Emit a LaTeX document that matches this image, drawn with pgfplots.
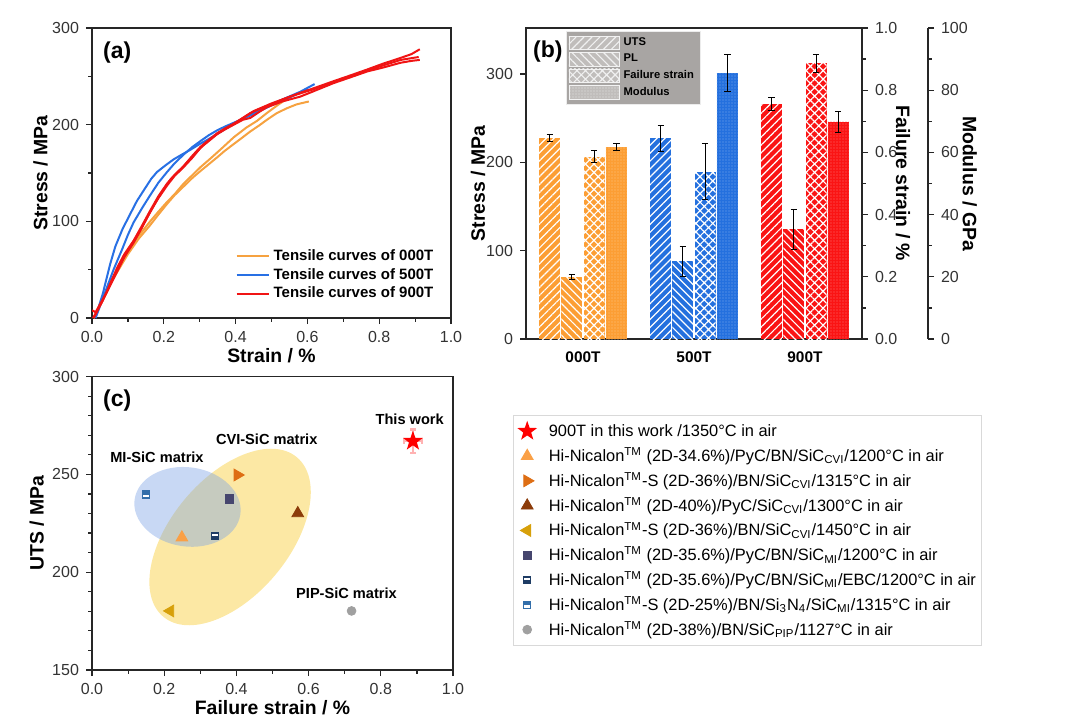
\documentclass[border=0pt]{standalone}
\usepackage{fontspec}
\setmainfont{Liberation Sans}
\usepackage{pgfplots}
\pgfplotsset{compat=1.18}
\usetikzlibrary{patterns.meta}

\definecolor{aOr}{RGB}{246,162,64}
\definecolor{aBl}{RGB}{40,112,228}
\definecolor{aRd}{RGB}{240,20,20}
\definecolor{cOr}{RGB}{252,158,52}
\definecolor{cBl}{RGB}{36,112,222}
\definecolor{cRd}{RGB}{250,20,20}
\definecolor{lgbg}{RGB}{168,165,163}
\definecolor{lgpat}{RGB}{192,189,187}
\definecolor{mOr}{RGB}{250,160,70}
\definecolor{mRt}{RGB}{222,110,20}
\definecolor{mBr}{RGB}{140,60,10}
\definecolor{mLt}{RGB}{215,160,10}
\definecolor{mSq}{RGB}{70,70,110}
\definecolor{mEBC}{RGB}{30,60,100}
\definecolor{mSN}{RGB}{50,110,170}
\definecolor{mCi}{RGB}{160,160,160}
\definecolor{elY}{RGB}{249,214,90}
\definecolor{elB}{RGB}{125,162,228}

\pgfdeclareplotmark{fstar}{%
  \pgfpathmoveto{\pgfpointpolar{90}{\pgfplotmarksize}}%
  \pgfpathlineto{\pgfpointpolar{126}{0.4*\pgfplotmarksize}}%
  \pgfpathlineto{\pgfpointpolar{162}{\pgfplotmarksize}}%
  \pgfpathlineto{\pgfpointpolar{198}{0.4*\pgfplotmarksize}}%
  \pgfpathlineto{\pgfpointpolar{234}{\pgfplotmarksize}}%
  \pgfpathlineto{\pgfpointpolar{270}{0.4*\pgfplotmarksize}}%
  \pgfpathlineto{\pgfpointpolar{306}{\pgfplotmarksize}}%
  \pgfpathlineto{\pgfpointpolar{342}{0.4*\pgfplotmarksize}}%
  \pgfpathlineto{\pgfpointpolar{18}{\pgfplotmarksize}}%
  \pgfpathlineto{\pgfpointpolar{54}{0.4*\pgfplotmarksize}}%
  \pgfpathclose
  \pgfusepathqfill}
\pgfdeclareplotmark{sqEBC}{%
  \pgfpathrectangle{\pgfpoint{-\pgfplotmarksize}{-\pgfplotmarksize}}{\pgfpoint{2\pgfplotmarksize}{2\pgfplotmarksize}}%
  \pgfusepathqfill
  \begin{pgfscope}\pgfsetfillcolor{white}%
  \pgfpathrectangle{\pgfpoint{-0.7\pgfplotmarksize}{0.05\pgfplotmarksize}}{\pgfpoint{1.4\pgfplotmarksize}{0.55\pgfplotmarksize}}%
  \pgfusepathqfill\end{pgfscope}}
\pgfdeclareplotmark{sqSN}{%
  \pgfpathrectangle{\pgfpoint{-\pgfplotmarksize}{-\pgfplotmarksize}}{\pgfpoint{2\pgfplotmarksize}{2\pgfplotmarksize}}%
  \pgfusepathqfill
  \begin{pgfscope}\pgfsetfillcolor{white}%
  \pgfpathrectangle{\pgfpoint{-0.7\pgfplotmarksize}{-0.7\pgfplotmarksize}}{\pgfpoint{1.4\pgfplotmarksize}{0.65\pgfplotmarksize}}%
  \pgfusepathqfill\end{pgfscope}}

\tikzset{
 pUTS/.style={postaction={pattern={Lines[angle=45,distance=2.8pt,line width=0.6pt]}, pattern color=#1}},
 pPL/.style={postaction={pattern={Lines[angle=-45,distance=2.8pt,line width=0.6pt]}, pattern color=#1}},
 pFS/.style={postaction={pattern={Hatch[angle=45,distance=3pt,line width=0.6pt]}, pattern color=#1}},
 pMod/.style={postaction={pattern={Dots[distance=1.5pt,radius=0.35pt]}, pattern color=#1}},
}
\pgfplotsset{
 mybar/.style={ybar, bar width=0.19, bar shift=0pt, draw=none,
   error bars/y dir=both, error bars/y explicit,
   error bars/error bar style={black, line width=0.5pt},
   error bars/error mark options={rotate=90, black, mark size=1.6pt, line width=0.5pt}},
 common/.style={scale only axis, anchor=south west,
   tick label style={font=\fontsize{8}{9.6}\selectfont, color=black!80},
   label style={font=\bfseries\fontsize{9.7}{11.5}\selectfont},
   /pgf/number format/assume math mode=true,
   tick align=outside, axis line style={black!85, line width=0.6pt},
   every tick/.style={black!85, line width=0.6pt},
   major tick length=3pt, minor tick length=1.8pt},
 zf/.style={/pgf/number format/.cd, fixed, fixed zerofill, precision=1},
}

\begin{document}
\begin{tikzpicture}
\useasboundingbox (0,0) rectangle (540pt,362pt);

% ---------------- (a)
\begin{axis}[common, at={(46pt,203pt)}, width=179.5pt, height=145pt,
  xmin=0, xmax=1, ymin=0, ymax=300,
  xtick={0,0.2,0.4,0.6,0.8,1.0}, ytick={0,100,200,300},
  xticklabel style={zf},
  minor x tick num=1, minor y tick num=1, tick pos=left,
  xlabel={Strain / \%}, ylabel={Stress / MPa},
  xlabel style={at={(rel axis cs:0.5,-0.131)}, anchor=center},
  ylabel style={at={(rel axis cs:-0.143,0.5)}, anchor=center},
  legend style={at={(0.98,0.03)}, anchor=south east, draw=none, fill=none,
    font=\bfseries\fontsize{7.5}{9}\selectfont, row sep=-1.5pt},
  legend cell align=left,
  legend image code/.code={\draw[#1] (0pt,0pt) -- (16pt,0pt);}]
\addplot[aOr, line width=1pt] coordinates {(0.005,0) (0.05,35) (0.1,66) (0.13,82) (0.162,96) (0.185,107) (0.209,118) (0.23,127) (0.255,136) (0.28,145) (0.302,152) (0.325,159) (0.348,166) (0.37,173) (0.395,180) (0.42,187) (0.441,193) (0.465,199) (0.487,205) (0.515,212) (0.543,217) (0.57,221) (0.604,224)};
\addlegendentry{Tensile curves of 000T}
\addplot[aOr, line width=1pt, forget plot] coordinates {(0.005,0) (0.05,36) (0.1,68) (0.13,85) (0.162,100) (0.185,110) (0.209,120) (0.23,128) (0.255,139) (0.28,148) (0.302,156) (0.33,165) (0.36,175) (0.395,187) (0.43,197) (0.46,204) (0.487,212) (0.52,221) (0.552,229)};
\addplot[aBl, line width=1pt] coordinates {(0.009,0) (0.03,25) (0.05,55) (0.065,74) (0.085,92) (0.107,108) (0.125,121) (0.144,132) (0.165,144) (0.181,151) (0.205,158) (0.227,164) (0.25,169) (0.274,174) (0.3,180) (0.32,184) (0.36,193) (0.395,201) (0.44,210) (0.487,219) (0.53,226) (0.58,234) (0.62,242)};
\addlegendentry{Tensile curves of 500T}
\addplot[aBl, line width=1pt, forget plot] coordinates {(0.01,0) (0.04,30) (0.06,50) (0.085,72) (0.1,86) (0.116,99) (0.14,114) (0.162,127) (0.185,140) (0.209,151) (0.23,160) (0.255,169) (0.28,177) (0.302,183) (0.325,189) (0.348,194) (0.37,198) (0.395,202) (0.45,211) (0.5,220) (0.55,228) (0.6,237)};
\addplot[aRd, line width=1pt] coordinates {(0.003,0) (0.03,18) (0.05,35) (0.07,52) (0.09,66) (0.116,80) (0.14,96) (0.162,111) (0.185,126) (0.209,139) (0.23,148) (0.255,157) (0.28,168) (0.302,177) (0.325,184) (0.348,191) (0.37,196) (0.395,201) (0.42,207) (0.441,212) (0.465,216) (0.487,219) (0.53,226) (0.58,233) (0.62,238) (0.673,245) (0.72,251) (0.766,257) (0.81,263) (0.859,269) (0.89,273) (0.913,278)};
\addlegendentry{Tensile curves of 900T}
\addplot[aRd, line width=1pt, forget plot] coordinates {(0.005,0) (0.05,33) (0.09,63) (0.116,78) (0.14,94) (0.162,110) (0.185,124) (0.209,137) (0.23,147) (0.255,156) (0.28,166) (0.302,176) (0.325,183) (0.348,190) (0.37,195) (0.395,200) (0.42,205) (0.441,207) (0.465,213) (0.487,218) (0.53,224) (0.58,229) (0.62,235) (0.673,243) (0.72,249) (0.766,255) (0.81,259) (0.859,264) (0.89,266) (0.913,267)};
\addplot[aRd, line width=1pt, forget plot] coordinates {(0,8) (0.01,6) (0.04,26) (0.07,50) (0.1,70) (0.13,88) (0.16,108) (0.19,128) (0.22,144) (0.25,155) (0.28,167) (0.31,179) (0.35,191) (0.4,202) (0.45,214) (0.5,222) (0.56,230) (0.62,237) (0.68,245) (0.74,252) (0.8,260) (0.86,267) (0.91,270)};
\node[anchor=west, inner sep=0pt, font=\bfseries\fontsize{11.5}{13}\selectfont] at (rel axis cs:0.03,0.917) {(a)};
\end{axis}

% ---------------- (b) main
\begin{axis}[common, at={(263pt,192.5pt)}, width=168pt, height=155.5pt,
  xmin=-0.514, xmax=2.514, ymin=0, ymax=352,
  xtick={0,1,2}, xticklabels={000T,500T,900T},
  xticklabel style={font=\bfseries\fontsize{7.7}{9}\selectfont, color=black},
  major x tick style={draw=none},
  ytick={0,100,200,300}, tick pos=left,
  ylabel={Stress / MPa},
  ylabel style={at={(rel axis cs:-0.143,0.5)}, anchor=center},
  legend style={at={(0.119,0.99)}, anchor=north west, fill=lgbg, draw=white!85!gray,
    font=\bfseries\fontsize{5.6}{6.5}\selectfont, row sep=-1.2pt, inner sep=1pt},
  legend cell align=left,
  legend image code/.code={\draw[#1] (0pt,-3.4pt) rectangle (25pt,3.4pt);}]
\addlegendimage{fill=lgpat, draw=white!90!gray, pUTS=white!88!gray}
\addlegendentry{UTS}
\addlegendimage{fill=lgpat, draw=white!90!gray, pPL=white!88!gray}
\addlegendentry{PL}
\addlegendimage{fill=lgpat, draw=white!90!gray, pFS=white!88!gray}
\addlegendentry{Failure strain}
\addlegendimage{fill=lgpat, draw=white!90!gray, pMod=white!80!gray}
\addlegendentry{Modulus}
% UTS
\addplot[mybar, fill=cOr, pUTS=white] coordinates {(-0.3,227) +- (0,4)};
\addplot[mybar, fill=cBl, pUTS=white] coordinates {(0.7,227) +- (0,15)};
\addplot[mybar, fill=cRd, pUTS=white] coordinates {(1.7,266) +- (0,7)};
% PL
\addplot[mybar, fill=cOr, pPL=white] coordinates {(-0.1,70) +- (0,3)};
\addplot[mybar, fill=cBl, pPL=white] coordinates {(0.9,88) +- (0,17)};
\addplot[mybar, fill=cRd, pPL=white] coordinates {(1.9,124) +- (0,23)};
\node[anchor=west, inner sep=0pt, font=\bfseries\fontsize{11.5}{13}\selectfont] at (rel axis cs:0.02,0.924) {(b)};
\end{axis}

% ---------------- (b) failure strain
\begin{axis}[common, at={(263pt,192.5pt)}, width=168pt, height=155.5pt,
  xmin=-0.514, xmax=2.514, ymin=0, ymax=1,
  axis y line*=right, axis x line=none,
  ytick={0,0.2,0.4,0.6,0.8,1.0}, minor y tick num=1,
  yticklabel style={zf},
  ylabel={Failure strain / \%},
  ylabel style={at={(rel axis cs:1.122,0.5)}, anchor=center, rotate=180}]
\addplot[mybar, fill=cOr, pFS=white] coordinates {(0.1,0.586) +- (0,0.02)};
\addplot[mybar, fill=cBl, pFS=white] coordinates {(1.1,0.538) +- (0,0.09)};
\addplot[mybar, fill=cRd, pFS=white] coordinates {(2.1,0.886) +- (0,0.03)};
\end{axis}

% ---------------- (b) modulus bars
\begin{axis}[common, at={(263pt,192.5pt)}, width=168pt, height=155.5pt,
  xmin=-0.514, xmax=2.514, ymin=0, ymax=100, hide axis]
\addplot[mybar, fill=cOr, pMod=white!40!cOr] coordinates {(0.3,61.8) +- (0,1.2)};
\addplot[mybar, fill=cBl, pMod=white!40!cBl] coordinates {(1.3,85.5) +- (0,6)};
\addplot[mybar, fill=cRd, pMod=white!40!cRd] coordinates {(2.3,69.8) +- (0,3.5)};
\end{axis}

% ---------------- (b) modulus axis
\begin{axis}[common, at={(263pt,192.5pt)}, width=201pt, height=155.5pt,
  xmin=0, xmax=1, ymin=0, ymax=100,
  axis y line*=right, axis x line=none,
  ytick={0,20,40,60,80,100}, minor y tick num=1,
  ylabel={Modulus / GPa},
  ylabel style={at={(rel axis cs:1.104,0.5)}, anchor=center, rotate=180}]
\end{axis}

% ---------------- (c)
\begin{axis}[common, at={(46pt,27pt)}, width=180.5pt, height=146.7pt,
  xmin=0, xmax=1, ymin=150, ymax=300,
  xtick={0,0.2,0.4,0.6,0.8,1.0}, ytick={150,200,250,300},
  xticklabel style={zf},
  minor x tick num=1, minor y tick num=4, tick pos=left,
  xlabel={Failure strain / \%}, ylabel={UTS / MPa},
  xlabel style={at={(rel axis cs:0.5,-0.13)}, anchor=center},
  ylabel style={at={(rel axis cs:-0.153,0.5)}, anchor=center},
  legend style={at={(1.166,0.869)}, anchor=north west, draw=black!15, fill=white,
    font=\fontsize{8.2}{10}\selectfont, row sep=0.6pt, inner sep=2pt,
    nodes={inner sep=0.6pt, text height=8pt, text depth=2.6pt}},
  legend cell align=left,
  legend image code/.code={\draw[mark repeat=2, mark phase=2, #1] plot coordinates {(0pt,0pt) (6pt,0pt) (12pt,0pt)};\path (16pt,0pt);}]
\fill[elY, opacity=0.55, shift={(axis cs:0.3825,218.0)}, rotate=50] (0pt,0pt) ellipse [x radius=52pt, y radius=29.5pt];
\fill[elB, opacity=0.42, shift={(axis cs:0.2645,233.4)}, rotate=-8] (0pt,0pt) ellipse [x radius=26.7pt, y radius=19.8pt];
\addplot[only marks, mark=fstar, mark size=5.2pt, color=red, fill=red,
  error bars/x dir=both, error bars/x explicit, error bars/y dir=both, error bars/y explicit,
  error bars/error bar style={red!30, line width=1.2pt},
  error bars/error mark options={rotate=90, red!30, mark size=1.5pt, line width=1.2pt}]
  coordinates {(0.889,267) +- (0.025,6)};
\addlegendentry{900T in this work /1350°C in air}
\addplot[only marks, mark=triangle*, mark size=3.4pt, color=mOr] coordinates {(0.249,217.7)};
\addlegendentry{Hi-Nicalon\textsuperscript{TM} (2D-34.6\%)/PyC/BN/SiC\textsubscript{CVI}/1200°C in air}
\addplot[only marks, mark=triangle*, mark size=3.4pt, color=mRt, mark options={rotate=-90}] coordinates {(0.403,249.7)};
\addlegendentry{Hi-Nicalon\textsuperscript{TM}-S (2D-36\%)/BN/SiC\textsubscript{CVI}/1315°C in air}
\addplot[only marks, mark=triangle*, mark size=3.4pt, color=mBr] coordinates {(0.570,230.1)};
\addlegendentry{Hi-Nicalon\textsuperscript{TM} (2D-40\%)/PyC/SiC\textsubscript{CVI}/1300°C in air}
\addplot[only marks, mark=triangle*, mark size=3.4pt, color=mLt, mark options={rotate=90}] coordinates {(0.217,180.2)};
\addlegendentry{Hi-Nicalon\textsuperscript{TM}-S (2D-36\%)/BN/SiC\textsubscript{CVI}/1450°C in air}
\addplot[only marks, mark=square*, mark size=2.1pt, color=mSq] coordinates {(0.381,237.4)};
\addlegendentry{Hi-Nicalon\textsuperscript{TM} (2D-35.6\%)/PyC/BN/SiC\textsubscript{MI}/1200°C in air}
\addplot[only marks, mark=sqEBC, mark size=2.1pt, color=mEBC, fill=mEBC] coordinates {(0.341,218.5)};
\addlegendentry{Hi-Nicalon\textsuperscript{TM} (2D-35.6\%)/PyC/BN/SiC\textsubscript{MI}/EBC/1200°C in air}
\addplot[only marks, mark=sqSN, mark size=2.1pt, color=mSN, fill=mSN] coordinates {(0.149,239.8)};
\addlegendentry{Hi-Nicalon\textsuperscript{TM}-S (2D-25\%)/BN/Si\textsubscript{3}N\textsubscript{4}/SiC\textsubscript{MI}/1315°C in air}
\addplot[only marks, mark=*, mark size=2.2pt, color=mCi] coordinates {(0.719,180.2)};
\addlegendentry{Hi-Nicalon\textsuperscript{TM} (2D-38\%)/BN/SiC\textsubscript{PIP}/1127°C in air}
\node[anchor=west, inner sep=0pt, font=\bfseries\fontsize{11.5}{13}\selectfont] at (rel axis cs:0.03,0.92) {(c)};
\node[font=\bfseries\fontsize{7.3}{9}\selectfont] at (axis cs:0.88,278) {This work};
\node[font=\bfseries\fontsize{7.3}{9}\selectfont] at (axis cs:0.484,268) {CVI-SiC matrix};
\node[font=\bfseries\fontsize{7.3}{9}\selectfont] at (axis cs:0.18,259) {MI-SiC matrix};
\node[font=\bfseries\fontsize{7.3}{9}\selectfont] at (axis cs:0.705,189.2) {PIP-SiC matrix};
\end{axis}
\end{tikzpicture}
\end{document}
